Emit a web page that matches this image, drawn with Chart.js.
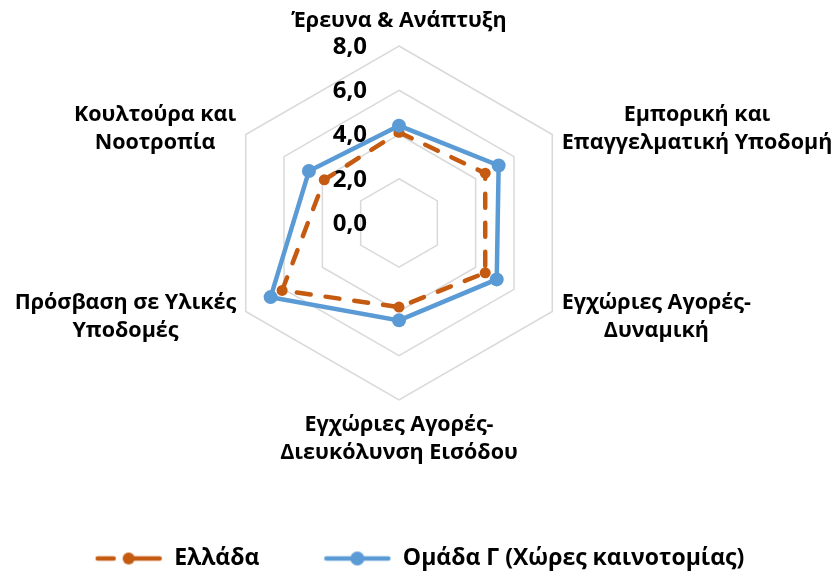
<!DOCTYPE html>
<html>
<head>
<meta charset="utf-8">
<script src="https://cdn.jsdelivr.net/npm/chart.js@4/dist/chart.umd.min.js"></script>
<style>
  html, body { margin: 0; padding: 0; background: #ffffff; }
  #wrap { width: 839px; height: 575px; }
</style>
</head>
<body>
<div id="wrap"><canvas id="c" width="839" height="575"></canvas></div>
<script>
// Axis categories (each entry is the list of lines of its label)
const categories = [
  ['Έρευνα & Ανάπτυξη'],
  ['Εμπορική και', 'Επαγγελματική Υποδομή'],
  ['Εγχώριες Αγορές-', 'Δυναμική'],
  ['Εγχώριες Αγορές-', 'Διευκόλυνση Εισόδου'],
  ['Πρόσβαση σε Υλικές', 'Υποδομές'],
  ['Κουλτούρα και', 'Νοοτροπία']
];
const seriesNames = ['Ελλάδα', 'Ομάδα Γ (Χώρες καινοτομίας)'];
const greeceValues = [4.1, 4.5, 4.5, 3.8, 6.1, 3.9];
const groupValues  = [4.4, 5.2, 5.1, 4.4, 6.7, 4.7];
const tickValues = [0, 2, 4, 6, 8];
const tickLabels = ['0,0', '2,0', '4,0', '6,0', '8,0'];

const FAMILY = "'Open Sans', 'Noto Sans', sans-serif";
const ORANGE = '#C55A11';
const BLUE = '#5B9BD5';
const CAT_SIZE = 21.5;
const CAT_LINE = 28;
const TICK_SIZE = 24;
const LEGEND_SIZE = 23;

// Legend swatches: a short line with the series marker on it
function makeSwatch(color, dashed, r) {
  const c = document.createElement('canvas');
  c.width = 68; c.height = 18;
  const g = c.getContext('2d');
  g.strokeStyle = color; g.fillStyle = color;
  g.lineWidth = 4.5; g.lineCap = 'round';
  g.beginPath();
  if (dashed) {
    g.moveTo(3, 9); g.lineTo(19, 9);
    g.moveTo(34, 9); g.lineTo(65, 9);
  } else {
    g.moveTo(3, 9); g.lineTo(65, 9);
  }
  g.stroke();
  g.beginPath(); g.arc(34, 9, r, 0, Math.PI * 2); g.fill();
  return c;
}
const swatches = [makeSwatch(ORANGE, true, 6), makeSwatch(BLUE, false, 7)];

// Category names and value labels of the radial axis
const axisText = {
  id: 'axisText',
  beforeDatasetsDraw(chart) {
    const scale = chart.scales.r;
    const ctx = chart.ctx;
    ctx.save();
    ctx.fillStyle = '#000000';
    ctx.textBaseline = 'middle';
    ctx.textAlign = 'right';
    ctx.font = `bold ${TICK_SIZE}px ${FAMILY}`;
    tickValues.forEach((v, i) => {
      const p = scale.getPointPositionForValue(0, v);
      ctx.fillText(tickLabels[i], p.x - 32, p.y + 1);
    });
    ctx.restore();
  },
  afterDraw(chart) {
    const scale = chart.scales.r;
    const ctx = chart.ctx;
    ctx.save();
    ctx.fillStyle = '#000000';
    ctx.textBaseline = 'middle';
    ctx.textAlign = 'center';
    ctx.font = `bold ${CAT_SIZE}px ${FAMILY}`;
    categories.forEach((lines, i) => {
      const p = scale.getPointPosition(i, scale.drawingArea + 11);
      const w = Math.max(...lines.map(l => ctx.measureText(l).width));
      const h = lines.length * CAT_LINE;
      const dx = p.x - scale.xCenter;
      const dy = p.y - scale.yCenter;
      let cx = p.x, top;
      if (dx > 5) cx = p.x + w / 2;
      else if (dx < -5) cx = p.x - w / 2;
      if (Math.abs(dx) <= 5) top = dy < 0 ? p.y - h : p.y;
      else top = p.y - h / 2;
      lines.forEach((l, k) => ctx.fillText(l, cx, top + CAT_LINE * (k + 0.5)));
    });
    ctx.restore();
  }
};

new Chart(document.getElementById('c'), {
  type: 'radar',
  data: {
    labels: categories,
    datasets: [
      {
        label: seriesNames[0],
        data: greeceValues,
        borderColor: ORANGE,
        backgroundColor: ORANGE,
        borderWidth: 4.5,
        borderDash: [14, 15],
        borderCapStyle: 'round',
        pointRadius: 5.5,
        pointBorderWidth: 0,
        pointBackgroundColor: ORANGE,
        fill: false,
        order: 1
      },
      {
        label: seriesNames[1],
        data: groupValues,
        borderColor: BLUE,
        backgroundColor: BLUE,
        borderWidth: 4.5,
        pointRadius: 7,
        pointBorderWidth: 0,
        pointBackgroundColor: BLUE,
        fill: false,
        order: 0
      }
    ]
  },
  options: {
    responsive: false,
    devicePixelRatio: 1,
    animation: false,
    layout: { padding: { top: 46, left: 0, right: 0, bottom: -5 } },
    scales: {
      r: {
        min: 0,
        max: 8,
        ticks: { stepSize: 2, display: false },
        grid: { color: '#d9d9d9', lineWidth: 1.5, circular: false },
        angleLines: { display: false },
        pointLabels: { display: false }
      }
    },
    plugins: {
      tooltip: { enabled: false },
      title: {
        display: true, position: 'right', fullSize: false, text: '',
        font: { size: 10 }, padding: { top: 14, bottom: 14 }
      },
      legend: {
        position: 'bottom',
        title: { display: true, text: '', font: { size: 10 }, padding: { top: 71, bottom: 0 } },
        labels: {
          usePointStyle: true,
          pointStyleWidth: 68,
          padding: 64,
          color: '#000000',
          font: { family: FAMILY, size: LEGEND_SIZE, weight: 'bold' },
          generateLabels(chart) {
            const items = Chart.defaults.plugins.legend.labels.generateLabels(chart);
            items.sort((a, b) => a.datasetIndex - b.datasetIndex);
            items.forEach(it => { it.pointStyle = swatches[it.datasetIndex]; });
            return items;
          }
        }
      }
    }
  },
  plugins: [axisText]
});
</script>
</body>
</html>
